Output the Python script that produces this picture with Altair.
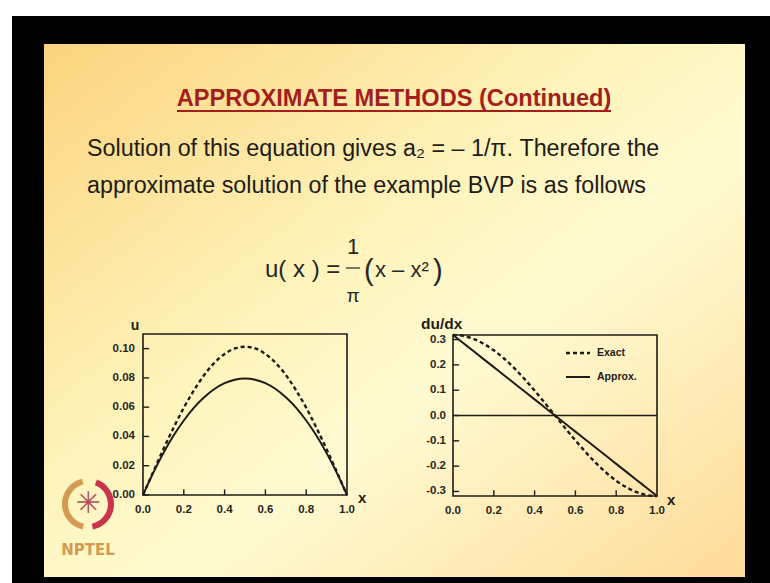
import altair as alt
import pandas as pd

# ---- data -------------------------------------------------------------
x_grid = [0.00, 0.05, 0.10, 0.15, 0.20, 0.25, 0.30, 0.35, 0.40, 0.45, 0.50,
          0.55, 0.60, 0.65, 0.70, 0.75, 0.80, 0.85, 0.90, 0.95, 1.00]
u_exact = [0.0, 0.0158, 0.0313, 0.0460, 0.0596, 0.0716, 0.0820, 0.0903, 0.0964, 0.1001, 0.1013,
           0.1001, 0.0964, 0.0903, 0.0820, 0.0716, 0.0596, 0.0460, 0.0313, 0.0158, 0.0]
u_approx = [0.0, 0.0151, 0.0286, 0.0406, 0.0509, 0.0597, 0.0668, 0.0724, 0.0764, 0.0788, 0.0796,
            0.0788, 0.0764, 0.0724, 0.0668, 0.0597, 0.0509, 0.0406, 0.0286, 0.0151, 0.0]
du_exact = [0.3183, 0.3144, 0.3027, 0.2836, 0.2575, 0.2251, 0.1871, 0.1445, 0.0984, 0.0498, 0.0,
            -0.0498, -0.0984, -0.1445, -0.1871, -0.2251, -0.2575, -0.2836, -0.3027, -0.3144, -0.3183]
du_approx = [0.3183, 0.2865, 0.2546, 0.2228, 0.1910, 0.1592, 0.1273, 0.0955, 0.0637, 0.0318, 0.0,
             -0.0318, -0.0637, -0.0955, -0.1273, -0.1592, -0.1910, -0.2228, -0.2546, -0.2865, -0.3183]

x_ticks = [0.0, 0.2, 0.4, 0.6, 0.8, 1.0]
u_ticks = [0.00, 0.02, 0.04, 0.06, 0.08, 0.10]
du_ticks = [-0.3, -0.2, -0.1, 0.0, 0.1, 0.2, 0.3]

curves = pd.DataFrame({"x": x_grid, "u_exact": u_exact, "u_approx": u_approx,
                       "du_exact": du_exact, "du_approx": du_approx})
one = pd.DataFrame({"k": [0]})

W, H = 770, 583
INK = "#1f1c18"
LABEL_INK = "#2a2622"
SANS = "Liberation Sans, Arial, sans-serif"


def txt(text, x, y, size, weight="normal", color=INK, font=SANS,
        align="left", baseline="alphabetic"):
    return alt.Chart(one).mark_text(
        text=text, align=align, baseline=baseline, font=font,
        fontSize=size, fontWeight=weight, color=color
    ).encode(x=alt.value(x), y=alt.value(y))


def box(x1, x2, y1, y2, **kw):
    return alt.Chart(one).mark_rect(**kw).encode(
        x=alt.value(x1), x2=alt.value(x2), y=alt.value(y1), y2=alt.value(y2))


def hline(x1, x2, y, **kw):
    return alt.Chart(one).mark_rule(**kw).encode(
        x=alt.value(x1), x2=alt.value(x2), y=alt.value(y))


# ---- slide frame and background --------------------------------------
frame = box(12, W, 16, H, color="#000000")
slide = box(44, 745, 44, 577, fill=alt.Gradient(
    gradient="linear", x1=0, y1=0, x2=1, y2=1,
    stops=[alt.GradientStop(color="#FBD47E", offset=0.0),
           alt.GradientStop(color="#FEF4BC", offset=0.42),
           alt.GradientStop(color="#FFFAD2", offset=0.6),
           alt.GradientStop(color="#FEDB98", offset=1.0)]))

# ---- heading and body text -------------------------------------------
title = txt("APPROXIMATE METHODS (Continued)", 394, 106, 23.6, "bold",
            "#A41E1E", SANS, align="center")
underline = hline(177, 611, 111, color="#A41E1E", strokeWidth=2)
line1 = txt("Solution of this equation gives a\u2082 = \u2013 1/\u03c0. Therefore the",
            87, 156, 23.3)
line2 = txt("approximate solution of the example BVP is as follows",
            87, 193, 23.3)

EQ = "#262626"
eq_lhs = txt("u( x ) =", 265, 277, 24, color=EQ)
eq_num = txt("1", 353, 254, 22, color=EQ, align="center")
eq_bar = hline(346, 360, 268, color=EQ, strokeWidth=1.2)
eq_den = txt("\u03c0", 353, 302, 19, color=EQ, align="center")
eq_lp = txt("(", 364, 280, 29, color=EQ)
eq_mid = txt("x \u2013 x\u00b2", 375, 277, 22, color=EQ)
eq_rp = txt(")", 433, 280, 29, color=EQ)

# ---- NPTEL logo ------------------------------------------------------
ring_l = alt.Chart(one).mark_arc(radius=26, radius2=20, theta=3.35, theta2=6.05,
                                 color="#D49A52").encode(x=alt.value(88), y=alt.value(504))
ring_r = alt.Chart(one).mark_arc(radius=26, radius2=20, theta=0.35, theta2=2.95,
                                 color="#C8344C").encode(x=alt.value(88), y=alt.value(504))
star = txt("\u2733", 88, 504, 30, color="#B0505A", font="DejaVu Sans",
           align="center", baseline="middle")
nptel = txt("NPTEL", 88, 555, 15, "bold", "#D49A52", "DejaVu Sans", align="center")


# ---- panels ------------------------------------------------------------
def fmt(v, spec):
    s = format(abs(v), spec)
    return ("-" + s) if v < 0 else s


def panel(x0, x1, y_bot, y_top, ydom, yvals, yfmt, ylab_right, ycol_exact, ycol_approx):
    sx = alt.Scale(domain=[0, 1], range=[x0, x1], nice=False, zero=False)
    sy = alt.Scale(domain=ydom, range=[y_bot, y_top], nice=False, zero=False)
    X = lambda f: alt.X(f, scale=sx, axis=None)
    Y = lambda f: alt.Y(f, scale=sy, axis=None)

    exact = alt.Chart(curves).mark_line(color=INK, strokeWidth=2.4, strokeDash=[4, 3],
                                        interpolate="monotone").encode(
        x=X("x:Q"), y=Y(f"{ycol_exact}:Q"))
    approx = alt.Chart(curves).mark_line(color=INK, strokeWidth=2,
                                         interpolate="monotone").encode(
        x=X("x:Q"), y=Y(f"{ycol_approx}:Q"))
    frame_box = alt.Chart(one).mark_rect(fillOpacity=0, stroke=INK, strokeWidth=1.6).encode(
        x=alt.X(datum=0, scale=sx, axis=None), x2=alt.datum(1),
        y=alt.Y(datum=ydom[0], scale=sy, axis=None), y2=alt.datum(ydom[1]))

    # inward tick marks
    xt = alt.Chart(pd.DataFrame({"t": x_ticks[1:-1]})).mark_rule(color=INK, strokeWidth=1.4).encode(
        x=X("t:Q"),
        y=alt.Y(datum=ydom[0], scale=sy, axis=None),
        y2=alt.datum(ydom[0] + (ydom[1] - ydom[0]) * 0.035))
    yt = alt.Chart(pd.DataFrame({"t": yvals})).mark_rule(color=INK, strokeWidth=1.4).encode(
        y=Y("t:Q"),
        x=alt.X(datum=0, scale=sx, axis=None), x2=alt.datum(0.03))

    # tick labels
    xl_df = pd.DataFrame({"t": x_ticks, "s": [fmt(v, ".1f") for v in x_ticks]})
    xl = alt.Chart(xl_df).mark_text(font=SANS, fontSize=11.5, fontWeight="bold",
                                    color=LABEL_INK, align="center", baseline="middle").encode(
        x=X("t:Q"), y=alt.value(y_bot + 15), text="s:N")
    yl_df = pd.DataFrame({"t": yvals, "s": [fmt(v, yfmt) for v in yvals]})
    yl = alt.Chart(yl_df).mark_text(font=SANS, fontSize=11.5, fontWeight="bold",
                                    color=LABEL_INK, align="right", baseline="middle").encode(
        y=Y("t:Q"), x=alt.value(ylab_right), text="s:N")

    return [frame_box, xt, yt, exact, approx, xl, yl], sx, sy


p1, sx1, sy1 = panel(143, 347, 495, 334, [0, 0.11], u_ticks, ".2f", 135, "u_exact", "u_approx")
p2, sx2, sy2 = panel(453, 657, 496, 335, [-0.318, 0.318], du_ticks, ".1f", 446,
                     "du_exact", "du_approx")

zero_line = alt.Chart(one).mark_rule(color=INK, strokeWidth=1.3).encode(
    x=alt.X(datum=0, scale=sx2, axis=None), x2=alt.datum(1),
    y=alt.Y(datum=0, scale=sy2, axis=None))
p2.append(zero_line)

panel1 = alt.layer(*p1)
panel2 = alt.layer(*p2)

# axis names and legend
u_name = txt("u", 135, 326, 14, "bold", INK, SANS, align="center", baseline="middle")
x_name1 = txt("x", 358, 498, 15, "bold", INK, SANS, baseline="middle")
du_name = txt("du/dx", 421, 324, 15.5, "bold", INK, SANS, baseline="middle")
x_name2 = txt("x", 667, 500, 15, "bold", INK, SANS, baseline="middle")
leg_dash = hline(566, 590, 353, color=INK, strokeWidth=2.4, strokeDash=[4, 3])
leg_solid = hline(566, 590, 377, color=INK, strokeWidth=2)
leg_t1 = txt("Exact", 597, 353, 10.5, "bold", INK, SANS, baseline="middle")
leg_t2 = txt("Approx.", 597, 377, 10.5, "bold", INK, SANS, baseline="middle")

chart = alt.layer(
    frame, slide, title, underline, line1, line2,
    eq_lhs, eq_num, eq_bar, eq_den, eq_lp, eq_mid, eq_rp,
    ring_l, ring_r, star, nptel,
    panel1, panel2,
    u_name, x_name1, du_name, x_name2, leg_dash, leg_solid, leg_t1, leg_t2,
).resolve_scale(x="independent", y="independent").properties(
    width=W, height=H, padding=0, autosize=alt.AutoSizeParams(type="none"),
    background="#ffffff"
).configure_view(stroke=None)

chart.save("out.html", embed_options={"renderer": "svg", "actions": False})
